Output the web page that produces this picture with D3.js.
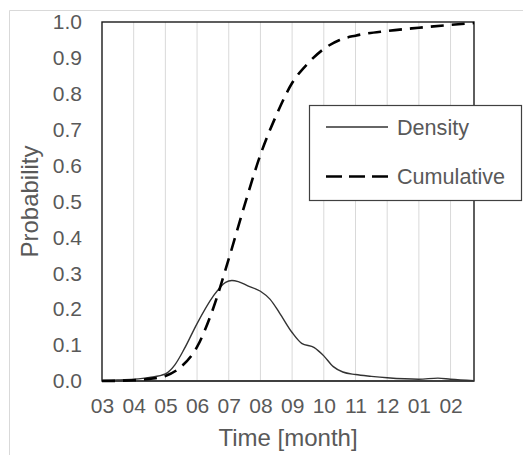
<!DOCTYPE html>
<html>
<head>
<meta charset="utf-8">
<script src="https://cdn.jsdelivr.net/npm/d3@7"></script>
<style>
  html, body { margin: 0; padding: 0; background: #fff; }
  svg { display: block; font-family: "Liberation Sans", Arial, sans-serif; }
</style>
</head>
<body>
<svg id="chart" width="523" height="455"></svg>
<script>
// Month tick labels (March through February)
const monthLabels = ["03","04","05","06","07","08","09","10","11","12","01","02"];
// Time in months from the start of March
const densityTime = [0, 0.5, 1, 1.5, 2, 2.3, 2.6, 3, 3.5, 3.9, 4.1, 4.3, 4.6, 5, 5.3, 5.6, 6, 6.3, 6.7, 7, 7.3, 7.6, 8, 8.5, 9, 10, 10.6, 11, 11.74];
const densityValue = [0.002, 0.003, 0.005, 0.01, 0.02, 0.045, 0.09, 0.16, 0.235, 0.275, 0.28, 0.277, 0.265, 0.25, 0.228, 0.19, 0.135, 0.105, 0.093, 0.07, 0.04, 0.025, 0.018, 0.013, 0.009, 0.005, 0.008, 0.005, 0.001];
const cumulativeTime = [0, 1, 1.5, 2, 2.5, 3, 3.5, 4, 4.5, 5, 5.5, 6, 6.5, 7, 7.5, 8, 9, 10, 11, 11.74];
const cumulativeValue = [0, 0.002, 0.006, 0.014, 0.04, 0.095, 0.2, 0.34, 0.49, 0.63, 0.74, 0.83, 0.885, 0.925, 0.95, 0.962, 0.975, 0.984, 0.992, 0.997];
const yTicks = [0, 0.1, 0.2, 0.3, 0.4, 0.5, 0.6, 0.7, 0.8, 0.9, 1.0];
const seriesNames = ["Density", "Cumulative"];

const svg = d3.select("#chart");
const plotLeft = 102, plotRight = 474, plotTop = 22, plotBottom = 381;

const x = d3.scaleLinear().domain([0, 11.74]).range([plotLeft, plotRight]);
const y = d3.scaleLinear().domain([0, 1]).range([plotBottom, plotTop]);

// outer chart frame (top and left edges visible)
svg.append("path")
  .attr("d", `M9.5,455 V10.5 H523`)
  .attr("fill", "none").attr("stroke", "#d9d9d9").attr("stroke-width", 1);

// vertical gridlines at each month
svg.append("g").selectAll("line")
  .data(d3.range(1, monthLabels.length))
  .join("line")
  .attr("x1", d => x(d)).attr("x2", d => x(d))
  .attr("y1", plotTop).attr("y2", plotBottom)
  .attr("stroke", "#d9d9d9").attr("stroke-width", 1);

// plot area border
svg.append("rect")
  .attr("x", plotLeft).attr("y", plotTop)
  .attr("width", plotRight - plotLeft).attr("height", plotBottom - plotTop)
  .attr("fill", "none").attr("stroke", "#1a1a1a").attr("stroke-width", 1.4);

// y axis labels
const yAxis = d3.axisLeft(y).tickValues(yTicks).tickFormat(d3.format(".1f")).tickSize(0).tickPadding(20);
const gy = svg.append("g").attr("transform", `translate(${plotLeft},0)`).call(yAxis);
gy.select(".domain").remove();
gy.selectAll("text").attr("font-size", 21).attr("fill", "#595959")
  .attr("font-family", "Liberation Sans, Arial, sans-serif");

// x axis labels
const xAxis = d3.axisBottom(x).tickValues(d3.range(monthLabels.length))
  .tickFormat(i => monthLabels[i]).tickSize(0).tickPadding(17);
const gx = svg.append("g").attr("transform", `translate(0,${plotBottom})`).call(xAxis);
gx.select(".domain").remove();
gx.selectAll("text").attr("font-size", 21).attr("fill", "#595959")
  .attr("font-family", "Liberation Sans, Arial, sans-serif");

// bottom axis line drawn a little heavier
svg.append("line")
  .attr("x1", plotLeft).attr("x2", plotRight).attr("y1", plotBottom).attr("y2", plotBottom)
  .attr("stroke", "#404040").attr("stroke-width", 2);

// axis titles
svg.append("text").attr("x", (plotLeft + plotRight) / 2).attr("y", 446)
  .attr("text-anchor", "middle").attr("font-size", 24).attr("fill", "#595959")
  .text("Time [month]");
svg.append("text").attr("transform", `translate(38,${(plotTop + plotBottom) / 2}) rotate(-90)`)
  .attr("text-anchor", "middle").attr("font-size", 24).attr("fill", "#595959")
  .text("Probability");

// series lines
const densityLine = d3.line().x((d, i) => x(densityTime[i])).y(d => y(d)).curve(d3.curveMonotoneX);
const cumulativeLine = d3.line().x((d, i) => x(cumulativeTime[i])).y(d => y(d)).curve(d3.curveMonotoneX);

svg.append("path").attr("d", densityLine(densityValue))
  .attr("fill", "none").attr("stroke", "#333").attr("stroke-width", 1.4);
svg.append("path").attr("d", cumulativeLine(cumulativeValue))
  .attr("fill", "none").attr("stroke", "#000").attr("stroke-width", 2.6)
  .attr("stroke-dasharray", "13,8");

// legend
const lg = svg.append("g");
lg.append("rect").attr("x", 309.5).attr("y", 105.5).attr("width", 212).attr("height", 95)
  .attr("fill", "#fff").attr("stroke", "#404040").attr("stroke-width", 1.2);
const rows = [
  { name: seriesNames[0], yy: 127, dash: null, w: 1.4, c: "#333" },
  { name: seriesNames[1], yy: 176.5, dash: "16,7", w: 2.6, c: "#000" }
];
rows.forEach(r => {
  const l = lg.append("line").attr("x1", 326).attr("x2", 388).attr("y1", r.yy).attr("y2", r.yy)
    .attr("stroke", r.c).attr("stroke-width", r.w);
  if (r.dash) l.attr("stroke-dasharray", r.dash);
  lg.append("text").attr("x", 397).attr("y", r.yy).attr("dy", "0.35em")
    .attr("font-size", 21.6).attr("fill", "#595959").text(r.name);
});
</script>
</body>
</html>
